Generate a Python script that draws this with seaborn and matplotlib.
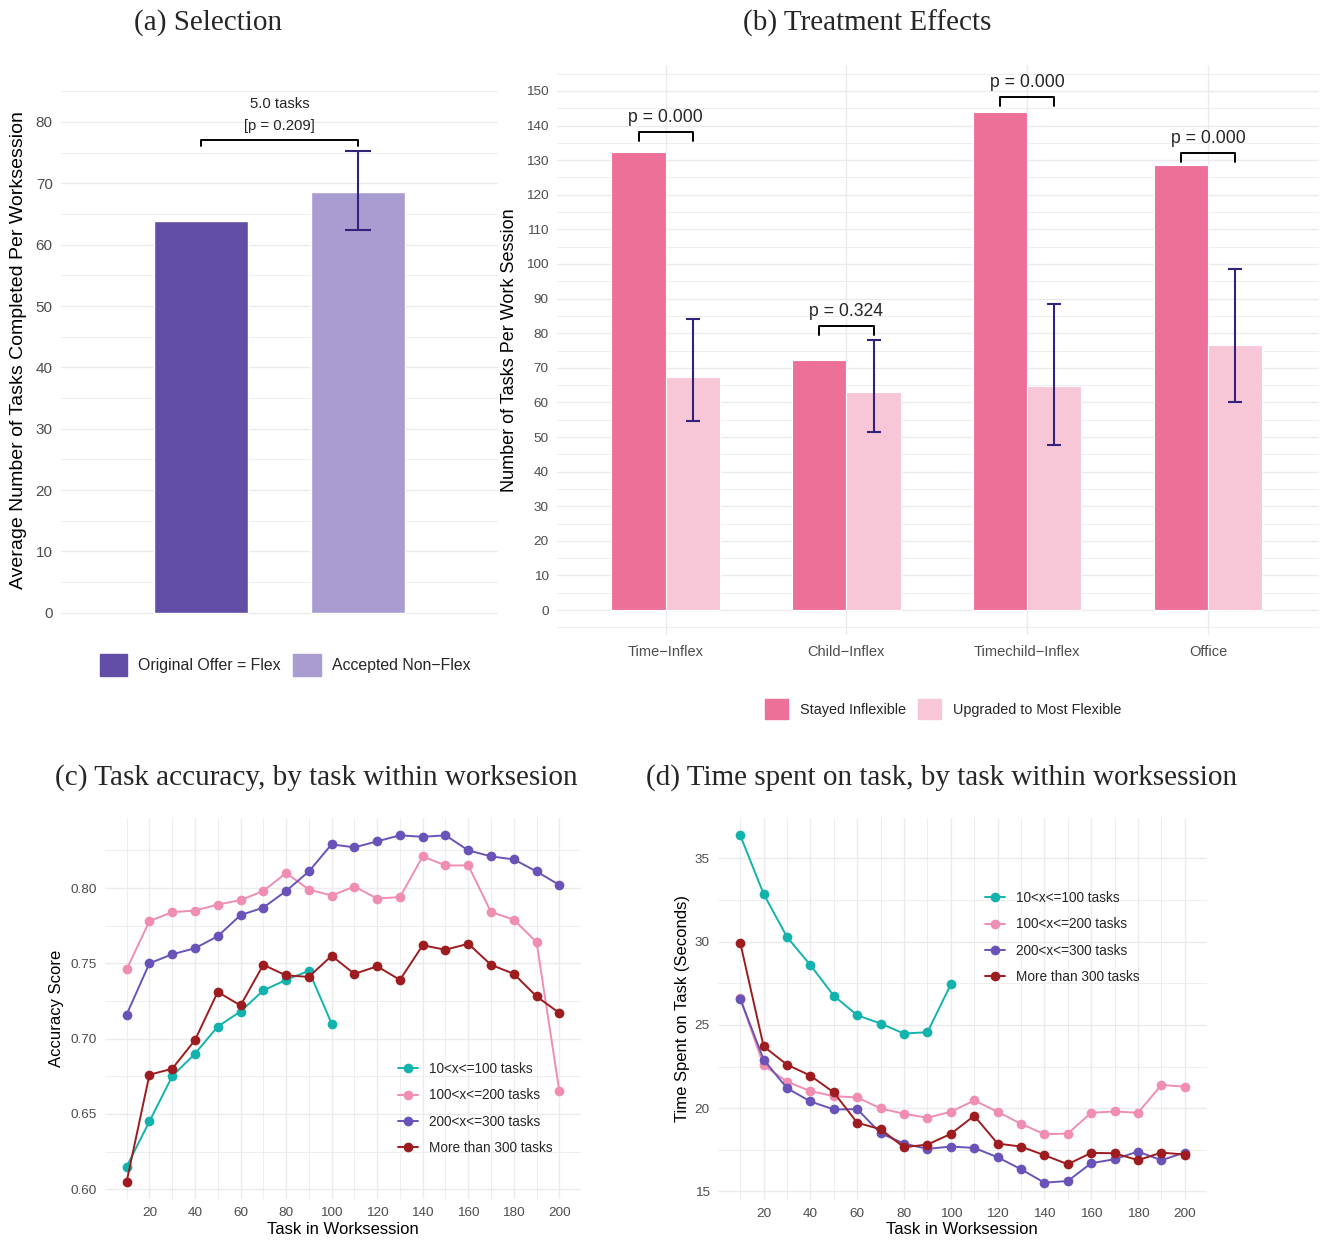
import numpy as np
import pandas as pd
import matplotlib
matplotlib.use("Agg")
import matplotlib.pyplot as plt
import seaborn as sns
from matplotlib.patches import Patch
from matplotlib.lines import Line2D
from matplotlib.ticker import MultipleLocator, FormatStrFormatter

# ---------------- data ----------------
# (a) Selection
sel_groups = ["Original Offer = Flex", "Accepted Non\u2212Flex"]
sel_means = [63.8, 68.6]
sel_ci_low = [np.nan, 62.4]
sel_ci_high = [np.nan, 75.2]
sel_diff_label = "5.0 tasks"
sel_p_label = "[p = 0.209]"

# (b) Treatment effects
conditions = ["Time\u2212Inflex", "Child\u2212Inflex", "Timechild\u2212Inflex", "Office"]
treat_groups = ["Stayed Inflexible", "Upgraded to Most Flexible"]
stayed = [132.3, 72.4, 144.0, 128.6]
upgraded = [67.4, 63.0, 64.7, 76.7]
upgraded_low = [54.5, 51.6, 47.7, 60.0]
upgraded_high = [84.2, 78.1, 88.5, 98.6]
p_values = ["p = 0.000", "p = 0.324", "p = 0.000", "p = 0.000"]
bracket_y = [138.1, 82.2, 148.2, 132.1]

# (c)/(d) by task within worksession
series_names = ["10<x<=100 tasks", "100<x<=200 tasks", "200<x<=300 tasks", "More than 300 tasks"]
task_short = [10, 20, 30, 40, 50, 60, 70, 80, 90, 100]
task_long = [10, 20, 30, 40, 50, 60, 70, 80, 90, 100,
             110, 120, 130, 140, 150, 160, 170, 180, 190, 200]

acc_g1 = [0.615, 0.645, 0.675, 0.690, 0.708, 0.718, 0.732, 0.739, 0.745, 0.710]
acc_g2 = [0.746, 0.778, 0.784, 0.785, 0.789, 0.792, 0.798, 0.810, 0.799, 0.795,
          0.801, 0.793, 0.794, 0.821, 0.815, 0.815, 0.784, 0.779, 0.764, 0.665]
acc_g3 = [0.716, 0.750, 0.756, 0.760, 0.768, 0.782, 0.787, 0.798, 0.811, 0.829,
          0.827, 0.831, 0.835, 0.834, 0.835, 0.825, 0.821, 0.819, 0.811, 0.802]
acc_g4 = [0.605, 0.676, 0.680, 0.699, 0.731, 0.722, 0.749, 0.742, 0.741, 0.755,
          0.743, 0.748, 0.739, 0.762, 0.759, 0.763, 0.749, 0.743, 0.728, 0.717]

time_g1 = [36.39, 32.87, 30.28, 28.59, 26.75, 25.58, 25.08, 24.48, 24.56, 27.43]
time_g2 = [26.60, 22.57, 21.59, 21.02, 20.72, 20.64, 19.98, 19.66, 19.42, 19.78,
           20.46, 19.78, 19.06, 18.43, 18.47, 19.72, 19.80, 19.72, 21.39, 21.29]
time_g3 = [26.57, 22.91, 21.20, 20.40, 19.92, 19.94, 18.49, 17.87, 17.55, 17.69,
           17.61, 17.05, 16.33, 15.52, 15.62, 16.69, 16.93, 17.39, 16.87, 17.33]
time_g4 = [29.94, 23.71, 22.61, 21.95, 20.94, 19.12, 18.73, 17.65, 17.81, 18.45,
           19.54, 17.87, 17.69, 17.17, 16.63, 17.31, 17.29, 16.87, 17.33, 17.21]

# ---------------- style ----------------
sel_colors = ["#624EA7", "#A99CD0"]
treat_colors = ["#EC7098", "#F7C6D7"]
line_colors = ["#13B3AD", "#F08DB2", "#6A53B8", "#9E1B1F"]
err_color = "#33217C"
grid_c = "#EBEBEB"
tick_c = "#4D4D4D"

sns.set_theme(style="white")
plt.rcParams["font.family"] = ["Liberation Sans", "DejaVu Sans"]
plt.rcParams["axes.unicode_minus"] = True

W, H = 1320, 1240
fig = plt.figure(figsize=(W / 100, H / 100), dpi=100)


def box(l, t, r, b):
    return [l / W, 1 - b / H, (r - l) / W, (b - t) / H]


def clean(ax):
    for sp in ax.spines.values():
        sp.set_visible(False)
    ax.set_axisbelow(True)
    ax.tick_params(which="both", length=0, colors=tick_c, pad=6)


def place_ylabel(ax, text, x_px, size):
    ax.set_ylabel(text, fontsize=size, color="black")
    bb = ax.get_position()
    xf = (x_px / W - bb.x0) / bb.width
    ax.yaxis.set_label_coords(xf, 0.5)
    ax.yaxis.label.set_verticalalignment("center")


serif = ["Liberation Serif", "DejaVu Serif"]
title_size = 21

# ---------------- (a) ----------------
ax_a = fig.add_axes(box(61, 82, 498, 619))
df_sel = pd.DataFrame({"group": sel_groups, "tasks": sel_means})
sns.barplot(data=df_sel, x="group", y="tasks", hue="group", order=sel_groups,
            hue_order=sel_groups, palette=sel_colors, width=0.6, saturation=1,
            legend=False, ax=ax_a)
clean(ax_a)
xa = np.arange(len(sel_groups))
lo = np.array(sel_ci_low)
hi = np.array(sel_ci_high)
mean_a = np.array(sel_means)
ax_a.errorbar(xa, mean_a, yerr=[mean_a - lo, hi - mean_a], fmt="none",
              ecolor=err_color, elinewidth=1.5, capsize=9.5, capthick=1.5)
ax_a.plot([0, 0, 1, 1], [76.1, 77.0, 77.0, 76.1], color="black", lw=1.4)
ax_a.text(0.5, 79.4, sel_p_label, ha="center", va="center", fontsize=10.7)
ax_a.text(0.5, 82.9, sel_diff_label, ha="center", va="center", fontsize=10.7)
ax_a.set_ylim(-1, 86.5)
ax_a.set_xlim(-0.897, 1.897)
ax_a.yaxis.set_major_locator(MultipleLocator(10))
ax_a.yaxis.set_minor_locator(MultipleLocator(5))
ax_a.grid(axis="y", which="major", color=grid_c, lw=1.0)
ax_a.grid(axis="y", which="minor", color=grid_c, lw=0.6)
ax_a.set_xticks([])
ax_a.set_xlabel("")
ax_a.tick_params(axis="y", labelsize=11)
place_ylabel(ax_a, "Average Number of Tasks Completed Per Worksession", 19, 14)
fig.legend(handles=[Patch(color=c, label=l) for c, l in zip(sel_colors, sel_groups)],
           loc="center", bbox_to_anchor=(285 / W, 1 - 665 / H), ncol=2, frameon=False,
           fontsize=11.4, handlelength=1.75, handleheight=1.75, handletextpad=0.7,
           columnspacing=0.75, borderpad=0)
fig.text(208 / W, 1 - 23 / H, "(a) Selection", family=serif, fontsize=title_size,
         ha="center", va="center")

# ---------------- (b) ----------------
ax_b = fig.add_axes(box(557, 65, 1319, 635))
df_tr = pd.DataFrame({
    "condition": conditions * 2,
    "group": [treat_groups[0]] * len(conditions) + [treat_groups[1]] * len(conditions),
    "value": stayed + upgraded,
})
sns.barplot(data=df_tr, x="condition", y="value", hue="group", order=conditions,
            hue_order=treat_groups, palette=treat_colors, width=0.6, saturation=1,
            edgecolor="white", linewidth=0.8, legend=False, ax=ax_b)
clean(ax_b)
xb = np.arange(len(conditions))
up = np.array(upgraded)
ax_b.errorbar(xb + 0.15, up, yerr=[up - np.array(upgraded_low), np.array(upgraded_high) - up],
              fmt="none", ecolor=err_color, elinewidth=1.5, capsize=4.8, capthick=1.5)
for i, (yb, pl) in enumerate(zip(bracket_y, p_values)):
    ax_b.plot([i - 0.15, i - 0.15, i + 0.15, i + 0.15], [yb - 2.6, yb, yb, yb - 2.6],
              color="black", lw=1.4)
    ax_b.text(i, yb + 4.2, pl, ha="center", va="center", fontsize=12.7)
ax_b.set_ylim(-7.2, 157.5)
ax_b.set_xlim(-0.601, 3.614)
ax_b.yaxis.set_major_locator(MultipleLocator(10))
ax_b.yaxis.set_minor_locator(MultipleLocator(5))
ax_b.grid(axis="y", which="major", color=grid_c, lw=1.0)
ax_b.grid(axis="y", which="minor", color=grid_c, lw=0.6)
ax_b.grid(axis="x", which="major", color=grid_c, lw=1.0)
ax_b.set_xlabel("")
ax_b.tick_params(axis="y", labelsize=9.7)
ax_b.tick_params(axis="x", labelsize=10.5, pad=7)
place_ylabel(ax_b, "Number of Tasks Per Work Session", 509, 13)
fig.legend(handles=[Patch(color=c, label=l) for c, l in zip(treat_colors, treat_groups)],
           loc="center", bbox_to_anchor=(943 / W, 1 - 709 / H), ncol=2, frameon=False,
           fontsize=10.4, handlelength=1.65, handleheight=1.65, handletextpad=0.8,
           columnspacing=0.8, borderpad=0)
fig.text(867 / W, 1 - 23 / H, "(b) Treatment Effects", family=serif, fontsize=title_size,
         ha="center", va="center")


# ---------------- (c) & (d) ----------------
def long_df(s1, s2, s3, s4):
    parts = []
    for name, xs, ys in zip(series_names, [task_short, task_long, task_long, task_long],
                            [s1, s2, s3, s4]):
        parts.append(pd.DataFrame({"task": xs, "value": ys, "group": name}))
    return pd.concat(parts, ignore_index=True)


def line_panel(rect, df, ylim, ymaj, ymin, fmt, ylabel, ylabel_x, xlabel_x,
               legend_left, legend_cy, title, title_x):
    ax = fig.add_axes(box(*rect))
    sns.lineplot(data=df, x="task", y="value", hue="group", hue_order=series_names,
                 palette=line_colors, marker="o", markersize=7, markeredgewidth=0,
                 linewidth=1.4, legend=False, ax=ax)
    clean(ax)
    ax.set_xlim(0.5, 209.5)
    ax.set_ylim(*ylim)
    ax.xaxis.set_major_locator(MultipleLocator(20))
    ax.xaxis.set_minor_locator(MultipleLocator(10))
    ax.yaxis.set_major_locator(MultipleLocator(ymaj))
    ax.yaxis.set_minor_locator(MultipleLocator(ymin))
    ax.yaxis.set_major_formatter(FormatStrFormatter(fmt))
    ax.grid(which="major", color=grid_c, lw=1.0)
    ax.grid(which="minor", color=grid_c, lw=0.6)
    ax.tick_params(labelsize=9.7)
    ax.set_xlabel("Task in Worksession", fontsize=12, color="black")
    bb = ax.get_position()
    ax.xaxis.set_label_coords((xlabel_x / W - bb.x0) / bb.width,
                              (1 - 1230 / H - bb.y0) / bb.height)
    ax.xaxis.label.set_verticalalignment("center")
    place_ylabel(ax, ylabel, ylabel_x, 12)
    handles = [Line2D([], [], color=c, marker="o", markersize=7, markeredgewidth=0,
                      lw=1.4, label=n) for c, n in zip(line_colors, series_names)]
    ax.legend(handles=handles, loc="center left",
              bbox_to_anchor=(legend_left / W, 1 - legend_cy / H),
              bbox_transform=fig.transFigure, frameon=False, fontsize=9.8,
              handlelength=1.5, handletextpad=0.8, labelspacing=0.9,
              borderpad=0, borderaxespad=0, numpoints=1)
    fig.text(title_x / W, 1 - 778 / H, title, family=serif, fontsize=title_size,
             ha="center", va="center")
    return ax


df_acc = long_df(acc_g1, acc_g2, acc_g3, acc_g4)
df_time = long_df(time_g1, time_g2, time_g3, time_g4)

line_panel((105, 818, 581, 1199), df_acc, (0.5935, 0.8465), 0.05, 0.025, "%.2f",
           "Accuracy Score", 57, 343, 398, 1108.5,
           "(c) Task accuracy, by task within worksesion", 316)
line_panel((718, 818, 1207, 1200), df_time, (14.48, 37.43), 5, 2.5, "%d",
           "Time Spent on Task (Seconds)", 683, 962, 985, 937.5,
           "(d) Time spent on task, by task within worksession", 942)

fig.savefig("out.png", dpi=100, facecolor="white")
